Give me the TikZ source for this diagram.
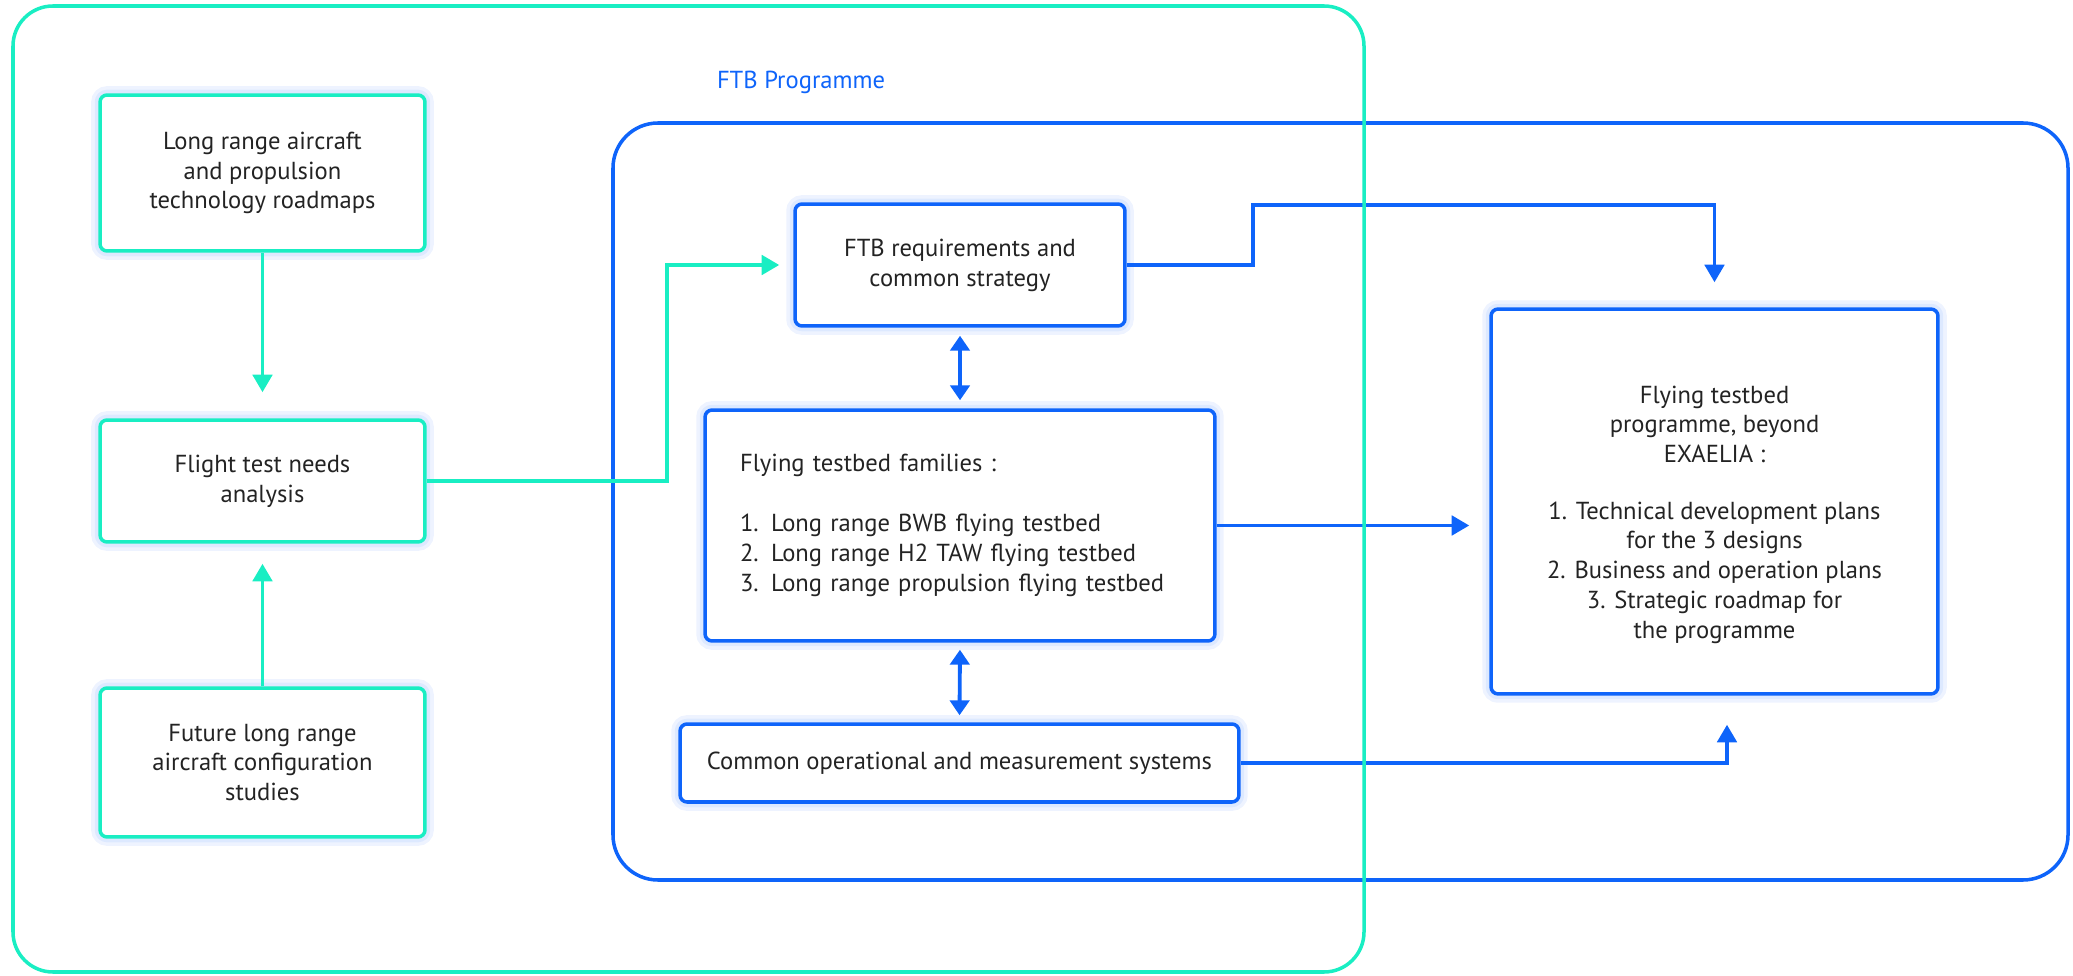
\documentclass[tikz,border=0pt]{standalone}
\usepackage{fontspec}
\setmainfont{PT Sans}
\usetikzlibrary{arrows.meta}
\definecolor{ftbteal}{RGB}{25,238,195}
\definecolor{ftbblue}{RGB}{14,100,250}
\definecolor{ftbtext}{RGB}{35,35,35}
\definecolor{ftbglow}{RGB}{205,222,255}
\tikzset{
  box/.style={fill=white, line width=2pt, rounded corners=4pt, inner sep=0pt,
    align=center, text=ftbtext, font=\fontsize{14}{17}\selectfont,
    preaction={draw=ftbglow, line width=10pt, opacity=.35},
    preaction={draw=ftbglow, line width=6pt, opacity=.5}},
  tealbox/.style={box, draw=ftbteal},
  bluebox/.style={box, draw=ftbblue},
  tip/.style={-{Triangle[length=10pt,width=11pt]}},
  tealline/.style={draw=ftbteal, line width=2.2pt, tip},
  blueline/.style={draw=ftbblue, line width=2.2pt, tip},
  twoway/.style={draw=ftbblue, line width=2.2pt,
    {Triangle[length=8.5pt,width=11pt]}-{Triangle[length=8.5pt,width=11pt]}}
}
\begin{document}
\begin{tikzpicture}[x=0.02cm,y=-0.02cm]
  \useasboundingbox (0,0) rectangle (2073,976);

  % programme frame
  \draw[ftbblue, line width=2pt, rounded corners=0.9cm] (613,123) rectangle (2068,880);
  \node[text=ftbblue, font=\fontsize{14}{17}\selectfont] (ftbtitle) at (801,82) {FTB Programme};

  % left column
  \node[tealbox, minimum width=6.5cm, minimum height=3.12cm] (roadmaps) at (262.5,173)
    {Long range aircraft\\and propulsion\\technology roadmaps};
  \node[tealbox, minimum width=6.5cm, minimum height=2.44cm] (needs) at (262.5,481)
    {Flight test needs\\analysis};
  \node[tealbox, minimum width=6.5cm, minimum height=2.98cm] (studies) at (262.5,762.5)
    {Future long range\\aircraft configuration\\studies};

  % programme content
  \node[bluebox, minimum width=6.6cm, minimum height=2.44cm] (req) at (960,265)
    {FTB requirements and\\common strategy};
  \node[bluebox, minimum width=10.2cm, minimum height=4.62cm, text width=8.8cm, align=left] (families) at (960,525.5)
    {Flying testbed families :\\[17pt]
     1. Long range BWB flying testbed\\
     2. Long range H2 TAW flying testbed\\
     3. Long range propulsion flying testbed};
  \node[bluebox, minimum width=8.94cm, minimum height=7.7cm] (beyond) at (1714.5,501.5)
    {\strut\\[-4pt]Flying testbed\\programme, beyond\\EXAELIA :\\[15pt]
     1. Technical development plans\\for the 3 designs\\
     2. Business and operation plans\\
     3. Strategic roadmap for\\the programme};
  \node[bluebox, minimum width=11.18cm, minimum height=1.56cm] (systems) at (959.5,763)
    {Common operational and measurement systems};

  \coordinate (jog) at (1253,205);

  \draw[tealline, shorten >=0.52cm] (roadmaps.south) -- (needs.north);
  \draw[tealline, shorten >=0.4cm] (studies.north) -- (needs.south);
  \draw[tealline, shorten >=0.28cm] (needs.east) -- ++(240,0) |- (req.west);

  \draw[twoway, shorten <=0.16cm, shorten >=0.16cm] (req.south) -- (families.north);
  \draw[twoway, shorten <=0.14cm, shorten >=0.14cm] (families.south) -- (systems.north);

  \draw[blueline, shorten >=0.5cm] (req.east) -| (jog) -| (beyond.north);
  \draw[blueline, shorten >=0.4cm] (families.east) -- (families.east -| beyond.west);
  \draw[blueline, shorten >=0.58cm] (systems.east) -| ([xshift=0.25cm]beyond.south);

  % surrounding frame
  \draw[ftbteal, line width=2pt, rounded corners=0.8cm] (13,6) rectangle (1364,972);
\end{tikzpicture}
\end{document}
